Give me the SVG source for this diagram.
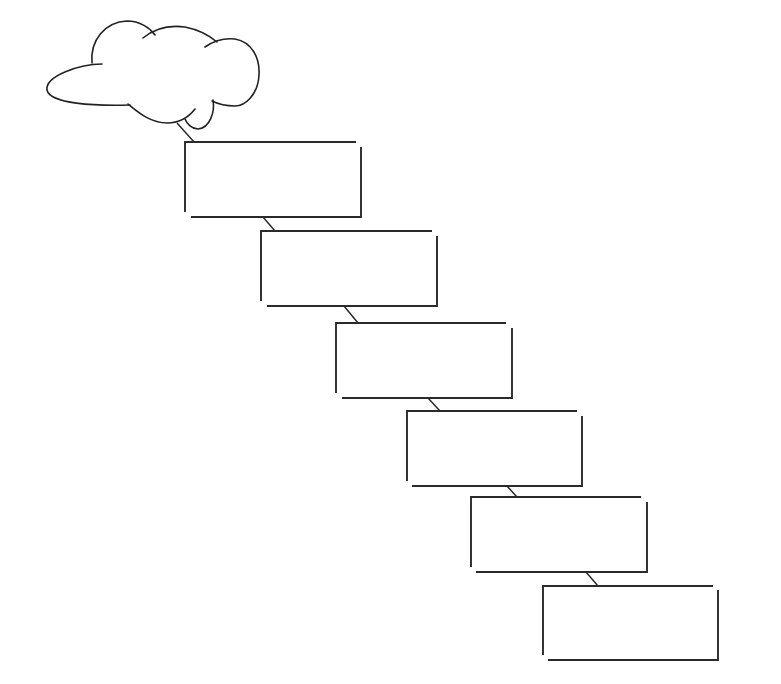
<svg xmlns="http://www.w3.org/2000/svg" width="781" height="684" viewBox="0 0 781 684">
<style>
.ln{fill:none;stroke:#2a2a2a;stroke-width:1.9;stroke-linecap:butt}
.cl{fill:none;stroke:#222;stroke-width:1.6;stroke-linecap:round}
.cn{fill:none;stroke:#2a2a2a;stroke-width:1.5}
</style>
<rect width="781" height="684" fill="#fff"/>
<g id="connectors">
<line class="cn" x1="177" y1="123" x2="194" y2="142"/>
<line class="cn" x1="263" y1="217" x2="275" y2="231"/>
<line class="cn" x1="344" y1="306" x2="358" y2="323"/>
<line class="cn" x1="428" y1="398" x2="440" y2="411"/>
<line class="cn" x1="507" y1="486" x2="517" y2="497"/>
<line class="cn" x1="586" y1="572" x2="598" y2="586"/>
</g>
<g id="cloud">
<path class="cl" d="M130,105 C95,106 50,104 47,90 C45,76 80,64 102,64"/>
<path class="cl" d="M92,63 C90,40 105,22 127,21 C140,21 150,28 155,35"/>
<path class="cl" d="M143,38 C155,28 170,25 185,27 C200,30 210,36 217,42"/>
<path class="cl" d="M205,47 C215,40 225,38 235,39 C252,42 260,58 259,75 C258,95 245,106 235,106 C225,106 218,104 212,101"/>
<path class="cl" d="M213,100 C215,112 210,128 198,129 C192,129 187,124 185,119"/>
<path class="cl" d="M195,109 C188,118 178,123 167,123 C150,123 138,112 128,104"/>
</g>
<g id="box1"><path class="ln" d="M185,212 V142 H356 M361,147 V217 H191"/></g>
<g id="box2"><path class="ln" d="M261,301 V231 H432 M437,236 V306 H267"/></g>
<g id="box3"><path class="ln" d="M336,393 V323 H506 M512,328 V398 H342"/></g>
<g id="box4"><path class="ln" d="M407,481 V411 H577 M582,416 V486 H412"/></g>
<g id="box5"><path class="ln" d="M471,567 V497 H641 M647,502 V572 H476"/></g>
<g id="box6"><path class="ln" d="M543,655 V586 H713 M718,590 V660 H548"/></g>
</svg>
